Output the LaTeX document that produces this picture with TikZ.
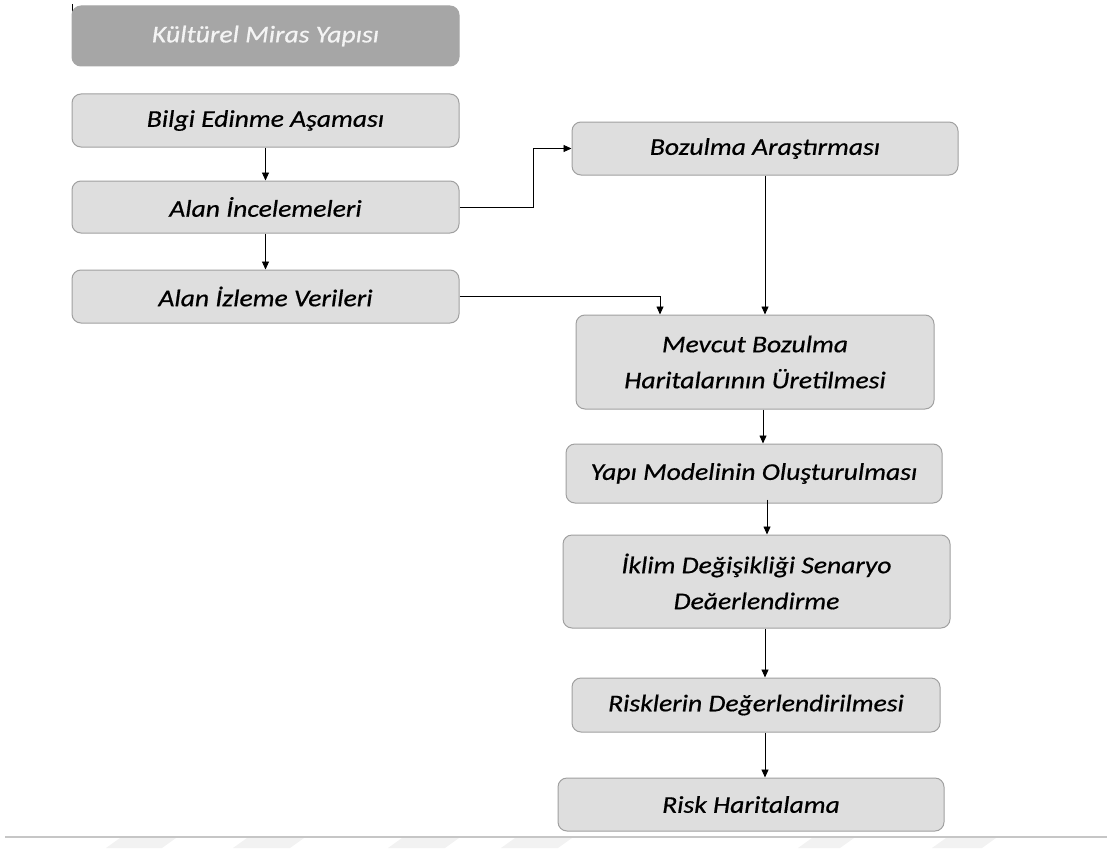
\documentclass[tikz,border=0pt]{standalone}
\usepackage{fontspec}
\setmainfont{Carlito}[FakeStretch=1.15,ItalicFeatures={FakeBold=0.6}]
\usetikzlibrary{arrows.meta,calc}
\definecolor{boxfill}{HTML}{DEDEDE}
\definecolor{boxline}{HTML}{A0A0A0}
\definecolor{topfill}{HTML}{A6A6A6}
\definecolor{toptext}{HTML}{F4F4F4}
\definecolor{stripe}{HTML}{F2F2F2}
\tikzset{
  box/.style={draw=boxline, line width=1pt, fill=boxfill, rounded corners=9pt,
    inner sep=0pt, align=center, font=\fontsize{24}{36}\selectfont\itshape, text=black},
  topbox/.style={box, fill=topfill, draw=topfill, text=toptext},
  arr/.style={draw=black, line width=0.9pt, -{Triangle[length=8pt,width=7pt]}},
}
\begin{document}
\begin{tikzpicture}[x=1pt,y=-1pt]
\useasboundingbox (0,0) rectangle (1107,848);
% watermark stripes
\foreach \a/\b in {106/162,233/290,388/445,501/558,798/840,932/982}{
  \fill[stripe] (\a,848) -- (\a+14,838) -- (\b+14,838) -- (\b,848) -- cycle;
}
\draw[gray!45, line width=1.5pt] (5,837) -- (1107,837);
\draw[black, line width=1.2pt] (72.5,4) -- (72.5,20);

\node[topbox, minimum width=387, minimum height=60] (kmy) at (265.5,36) {Kültürel Miras Yapısı};
\node[box, minimum width=387, minimum height=53] (bilgi) at (265.5,120.5) {Bilgi Edinme Aşaması};
\node[box, minimum width=387, minimum height=52] (inc) at (265.5,207) {Alan İncelemeleri};
\node[box, minimum width=387, minimum height=53] (izl) at (265.5,296.5) {Alan İzleme Verileri};
\node[box, minimum width=386, minimum height=53] (boz) at (765,148.5) {Bozulma Araştırması};
\node[box, minimum width=358, minimum height=94] (mev) at (755,362) {Mevcut Bozulma\\Haritalarının Üretilmesi};
\node[box, minimum width=376, minimum height=59] (yapi) at (754,473.5) {Yapı Modelinin Oluşturulması};
\node[box, minimum width=387, minimum height=93] (iklim) at (756.5,581.5) {İklim Değişikliği Senaryo\\Deăerlendirme};
\node[box, minimum width=368, minimum height=54] (risk) at (756,705) {Risklerin Değerlendirilmesi};
\node[box, minimum width=386, minimum height=53] (harita) at (751,804.5) {Risk Haritalama};

\coordinate (xa) at (660,0);
\coordinate (xb) at (765,0);
\coordinate (xc) at (763,0);
\coordinate (xd) at (767,0);
\coordinate (turn) at (533,0);

\draw[arr] (bilgi.south) -- (inc.north);
\draw[arr] (inc.south) -- (izl.north);
\draw[arr] (inc.east) -| (turn |- boz.west) -- (boz.west);
\draw[arr] (izl.east) -| (xa |- mev.north);
\draw[arr] (boz.south -| xb) -- (mev.north -| xb);
\draw[arr] (mev.south -| xc) -- (yapi.north -| xc);
\draw[arr] ([yshift=4pt]yapi.south -| xd) -- (iklim.north -| xd);
\draw[arr] (iklim.south -| xb) -- (risk.north -| xb);
\draw[arr] (risk.south -| xb) -- (harita.north -| xb);
\end{tikzpicture}
\end{document}
